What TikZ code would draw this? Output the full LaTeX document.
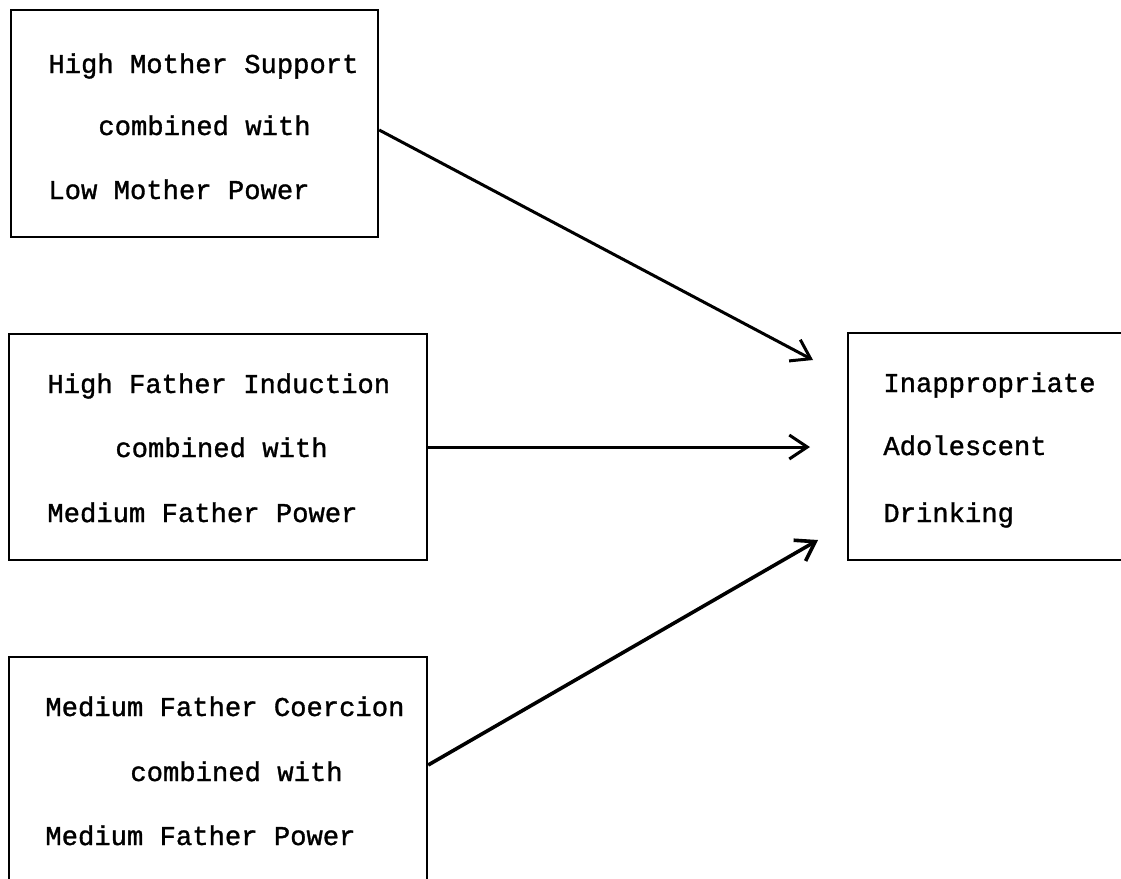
\documentclass[tikz,border=0pt]{standalone}
\usepackage{fontspec}
\newfontfamily\typewriter[FakeBold=1.2]{Liberation Mono}
\usetikzlibrary{arrows.meta, positioning}

\begin{document}
\begin{tikzpicture}[
    x=0.5pt, y=-0.5pt,
    >={Straight Barb[length=9pt, width=12pt]},
    box/.style={draw, line width=1.2pt, inner sep=0pt},
    line/.style={font=\typewriter\fontsize{13.6}{16}\selectfont,
                 anchor=base west, inner sep=0pt},
    link/.style={->, line width=1.5pt}
  ]
  \clip (0,0) rectangle (1121,879);

  % Boxes
  \node[box, minimum width=183.5pt, minimum height=113.5pt] (mom) at (194.5, 123.5) {};
  \node[box, minimum width=209pt, minimum height=113pt] (ind) at (218, 447) {};
  \node[box, minimum width=209pt, minimum height=114pt] (coe) at (218, 771) {};
  \node[box, minimum width=143.5pt, minimum height=113.5pt] (drink) at (991.5, 446.5) {};

  % Mother support
  \node[line] (mom1) at (48, 73) {High Mother Support};
  \node[line] (mom2) at (98, 135) {combined with};
  \node[line] (mom3) at (48, 199) {Low Mother Power};

  % Father induction
  \node[line] (ind1) at (47, 393) {High Father Induction};
  \node[line] (ind2) at (115, 457) {combined with};
  \node[line] (ind3) at (47, 522) {Medium Father Power};

  % Father coercion
  \node[line] (coe1) at (45, 716) {Medium Father Coercion};
  \node[line] (coe2) at (130, 781) {combined with};
  \node[line] (coe3) at (45, 845) {Medium Father Power};

  % Outcome
  \node[line] (drink1) at (883, 392) {Inappropriate};
  \node[line] (drink2) at (883, 455) {Adolescent};
  \node[line] (drink3) at (883, 522) {Drinking};

  % Arrow ends
  \coordinate (t1) at (813, 360);
  \coordinate (t2) at (810, 447);
  \coordinate (t3) at (818, 540);

  \draw[link] ([yshift=-3.25pt]mom.east) -- (t1);
  \draw[link] (ind.east) -- (t2);
  \draw[link, line width=1.8pt] ([yshift=3pt]coe.east) -- (t3);
\end{tikzpicture}
\end{document}
